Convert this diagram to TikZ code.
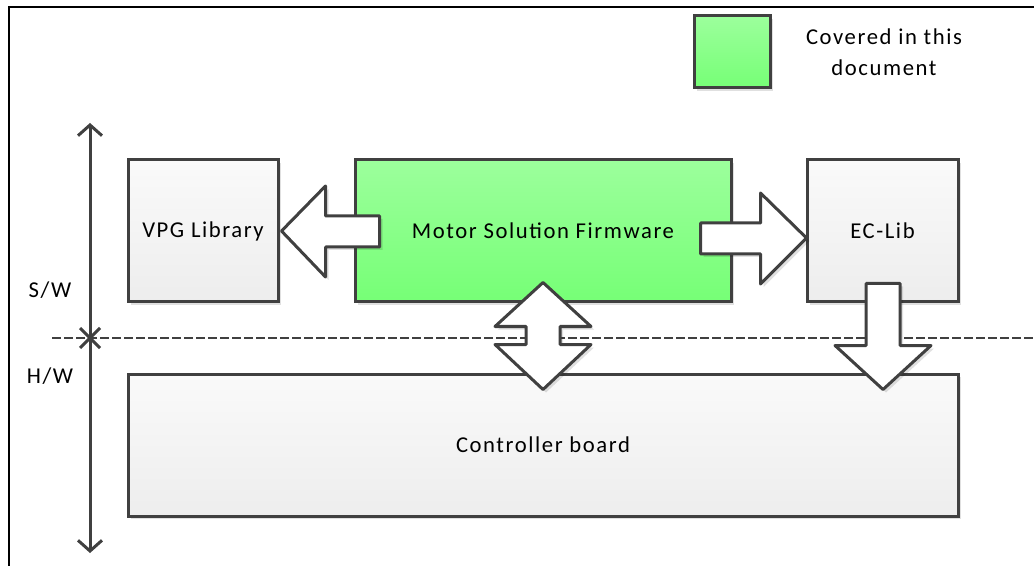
\documentclass[tikz,border=0pt]{standalone}
\usepackage{fontspec}
\setmainfont{Carlito}[LetterSpace=7]
\usepackage{xcolor}
\usetikzlibrary{shadows,
                positioning}
\usetikzlibrary{calc,arrows.meta}
\definecolor{edgegray}{HTML}{404040}
\definecolor{greentop}{HTML}{9CFF9C}
\definecolor{greenbot}{HTML}{76FF76}
\tikzset{
  softshadow/.style={drop shadow={shadow xshift=2.25pt, shadow yshift=-2.25pt, fill=black, opacity=0.12}},
  blockbox/.style={draw=edgegray, line width=2.25pt, top color=white!98!black, bottom color=white!93!black,
                   minimum height=106.5pt, font=\fontsize{17}{23}\selectfont, softshadow},
  coveredbox/.style={blockbox, top color=greentop, bottom color=greenbot},
  fatarrow/.style={draw=edgegray, fill=white, line width=2.25pt, line join=round, softshadow},
  layerlabel/.style={font=\fontsize{17}{20}\selectfont},
}
\begin{document}
\begin{tikzpicture}[x=0.75pt,y=-0.75pt]
\useasboundingbox (0,0) rectangle (1034,566);
\draw[line width=1.5pt] (9,566) -- (9,7) -- (1034,7);
% legend
\node[coveredbox, minimum width=57pt, minimum height=54pt] (legend) at (732,52) {};
\node[layerlabel, align=center, font=\fontsize{17}{23.25}\selectfont] (legendtext) at (884,52) {Covered in this\\document};
% S/W -- H/W axis
\coordinate (swtop) at (90,123);
\coordinate (hwbot) at (90,553);
\coordinate (cross) at (90,338);
\draw[edgegray, line width=2pt, dash pattern=on 6.5pt off 2.5pt] (52,338) -- (1034,338);
\draw[edgegray, line width=2.25pt, {Straight Barb[length=8pt,width=18pt]}-{Straight Barb[length=8pt,width=18pt]}] (swtop) -- (hwbot);
\draw[edgegray, line width=2.25pt] ($(cross)+(-10,-10)$) -- ($(cross)+(10,10)$) ($(cross)+(-10,10)$) -- ($(cross)+(10,-10)$);
\foreach \lbl/\yy in {{S/W}/290,{H/W}/376} \node[layerlabel] at (50,\yy) {\lbl};
% blocks
\node[blockbox, minimum width=112.5pt] (vpg) at (203,231) {VPG Library};
\node[coveredbox, minimum width=282pt] (fw) at (543,231) {Motor Solution Firmware};
\node[blockbox, minimum width=113.25pt] (eclib) at (882.5,231) {EC-Lib};
\node[blockbox, minimum width=622.5pt] (ctrl) at (543,445) {Controller board};
% block arrows
\draw[fatarrow] (vpg.east) ++(2,0) -- ++(44,-45) -- ++(0,30) -- ++(54,0) -- ++(0,31) -- ++(-54,0) -- ++(0,30) -- cycle;
\draw[fatarrow] ($(eclib.west)+(1,7)$) -- ++(-46,-45) -- ++(0,30) -- ++(-60,0) -- ++(0,31) -- ++(60,0) -- ++(0,30) -- cycle;
\draw[fatarrow] ($(fw.south)+(0,-21)$) -- ++(48,44) -- ++(-31,0) -- ++(0,18) -- ++(31,0) -- ++(-48,45) -- ++(-48,-45) -- ++(31,0) -- ++(0,-18) -- ++(-31,0) -- cycle;
\draw[fatarrow] ($(eclib.south)+(0.5,86)$) -- ++(-48,-44) -- ++(31,0) -- ++(0,-62) -- ++(34,0) -- ++(0,62) -- ++(31,0) -- cycle;
\end{tikzpicture}
\end{document}
